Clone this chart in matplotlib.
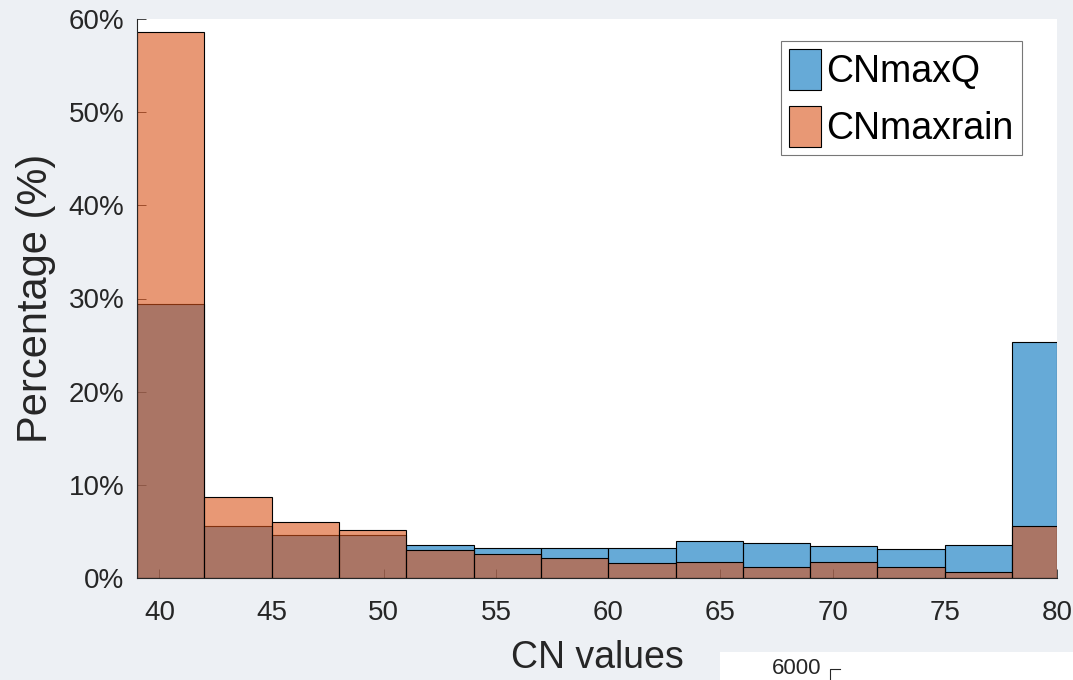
import numpy as np
import matplotlib
matplotlib.use('Agg')
import matplotlib.pyplot as plt
from matplotlib.ticker import FuncFormatter
from matplotlib.patches import Rectangle
from matplotlib.lines import Line2D

# CN histogram data (percent of cases per bin)
bin_edges = [39, 42, 45, 48, 51, 54, 57, 60, 63, 66, 69, 72, 75, 78, 80]
cn_max_q = [29.4, 5.6, 4.65, 4.65, 3.54, 3.25, 3.25, 3.25, 3.97, 3.76, 3.47, 3.07, 3.54, 25.3]
cn_max_rain = [58.6, 8.7, 6.04, 5.2, 2.97, 2.6, 2.18, 1.64, 1.75, 1.21, 1.75, 1.21, 0.68, 5.6]
series_names = ['CNmaxQ', 'CNmaxrain']
x_ticks = [40, 45, 50, 55, 60, 65, 70, 75, 80]
y_ticks = [0, 10, 20, 30, 40, 50, 60]

plt.rcParams['font.family'] = ['Liberation Sans', 'DejaVu Sans']

blue = (0.0, 0.447, 0.741, 0.6)
orange = (0.85, 0.325, 0.098, 0.6)
txt = '#262626'

fig = plt.figure(figsize=(10.73, 6.8), dpi=100)
fig.patch.set_facecolor('#edf0f4')
ax = fig.add_axes([137/1073, 1 - 578/680, 920/1073, 559/680])

left = np.array(bin_edges[:-1])
widths = np.diff(bin_edges)
ax.bar(left, cn_max_q, width=widths, align='edge', color=blue,
       edgecolor='black', linewidth=0.8, label=series_names[0])
ax.bar(left, cn_max_rain, width=widths, align='edge', color=orange,
       edgecolor='black', linewidth=0.8, label=series_names[1])

ax.set_xlim(39, 80)
ax.set_ylim(0, 60)
ax.set_xticks(x_ticks)
ax.set_yticks(y_ticks)
ax.yaxis.set_major_formatter(FuncFormatter(lambda v, p: f'{v:.0f}%'))
ax.set_axisbelow(True)
ax.tick_params(direction='in', length=6.5, width=0.6, colors=txt,
               labelsize=20)
ax.tick_params(axis='y', pad=9)
ax.tick_params(axis='x', pad=16)

for s in ['top', 'right']:
    ax.spines[s].set_visible(False)
for s in ['left', 'bottom']:
    ax.spines[s].set_color(txt)
    ax.spines[s].set_linewidth(0.8)

ax.set_xlabel('CN values', fontsize=27, color=txt, labelpad=10)
ax.set_ylabel('Percentage (%)', fontsize=30, color=txt, labelpad=9)

leg = ax.legend(loc='upper right', bbox_to_anchor=(1022/1073, 1 - 41/680),
                bbox_transform=fig.transFigure, fontsize=27, frameon=True,
                fancybox=False, borderpad=0.22, labelspacing=0.42,
                handlelength=0.85, handleheight=1.3, handletextpad=0.15,
                borderaxespad=0)
leg.get_frame().set_edgecolor('#555555')
leg.get_frame().set_linewidth(0.8)

# corner of the next panel below
fig.patches.append(Rectangle((720/1073, 0), 353/1073, 28/680,
                             transform=fig.transFigure, facecolor='white',
                             edgecolor='none', zorder=5))
fig.text(821/1073, 1/680, '6000', ha='right', va='bottom', fontsize=16,
         color=txt, zorder=6)
fig.lines.append(Line2D([830/1073, 830/1073, 840/1073],
                        [0, 1 - 669/680, 1 - 669/680],
                        transform=fig.transFigure, color=txt, linewidth=0.8,
                        zorder=6))

fig.savefig('out.png', dpi=100, facecolor=fig.get_facecolor())
